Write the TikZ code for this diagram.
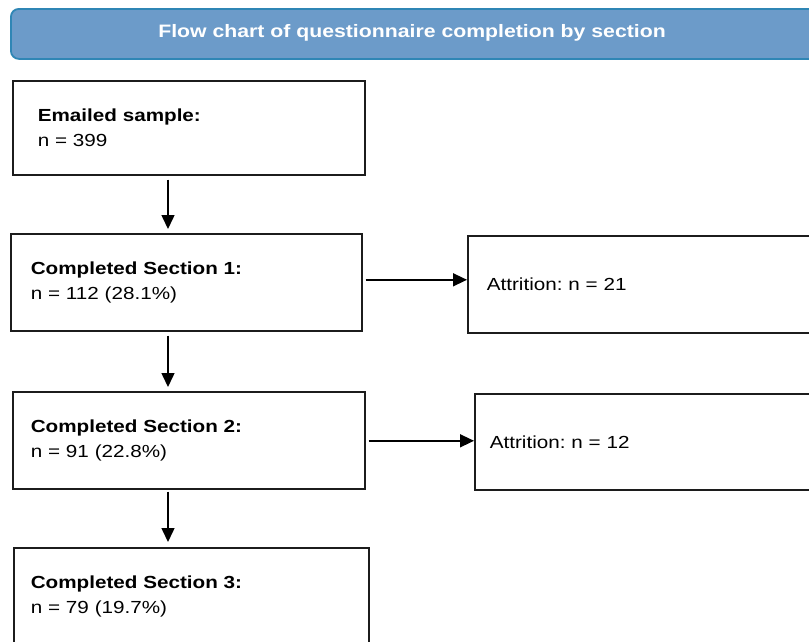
\documentclass[tikz,border=0pt]{standalone}
\usepackage{fontspec}
\setmainfont{Liberation Sans}[FakeStretch=1.18]
\usetikzlibrary{arrows.meta,positioning}
\definecolor{hdrfill}{HTML}{6C9BC9}
\definecolor{hdrline}{HTML}{2F86B5}
\definecolor{boxline}{HTML}{1C1C1C}
\frenchspacing
\tikzset{
  x=1pt, y=-1pt,
  hdr/.style={draw=hdrline, line width=1.8pt, fill=hdrfill, rounded corners=8pt,
    minimum width=830pt, minimum height=50pt, anchor=north west, inner sep=0pt,
    text=white, font=\fontsize{18}{20}\selectfont\bfseries},
  stepbox/.style={draw=boxline, line width=1.6pt, rectangle, anchor=north west,
    align=left, inner ysep=0pt, font=\fontsize{17.5}{24.5}\selectfont},
  arr/.style={draw=black, line width=1.5pt, -{Triangle[length=14pt,width=13pt]}}
}
\begin{document}
\begin{tikzpicture}
\useasboundingbox (0,0) rectangle (809,641);
\fill[white] (0,0) rectangle (809,641);
% header
\node[hdr] (title) at (10,8) {};
\node[text=white, font=\fontsize{18}{20}\selectfont\bfseries, anchor=center] (titletext) at (412,33) {Flow chart of questionnaire completion by section};
% main boxes
\node[stepbox, inner xsep=25pt, text width=302pt, minimum height=94pt] (b1) at (12,80)
  {\textbf{Emailed sample:}\\n = 399};
\node[stepbox, inner xsep=20pt, text width=311pt, minimum height=97pt] (b2) at (10,233)
  {\textbf{Completed Section 1:}\\n = 112 (28.1\%)};
\node[stepbox, inner xsep=18pt, text width=316pt, minimum height=97pt] (b3) at (12,391)
  {\textbf{Completed Section 2:}\\n = 91 (22.8\%)};
\node[stepbox, inner xsep=17pt, text width=321pt, minimum height=97pt] (b4) at (13,547)
  {\textbf{Completed Section 3:}\\n = 79 (19.7\%)};
% attrition boxes
\node[stepbox, inner xsep=19pt, text width=362pt, minimum height=97pt] (a1) at (467,235)
  {Attrition: n = 21};
\node[stepbox, inner xsep=15pt, text width=366pt, minimum height=96pt] (a2) at (474,393)
  {Attrition: n = 12};
% connectors
\coordinate (vx) at (168,0);
\draw[arr] ([yshift=-4pt]b1.south -| vx) -- ([yshift=4pt]b2.north -| vx);
\draw[arr] ([yshift=-4pt]b2.south -| vx) -- ([yshift=4pt]b3.north -| vx);
\draw[arr] ([yshift=-2pt]b3.south -| vx) -- ([yshift=5pt]b4.north -| vx);
\draw[arr] ([xshift=3pt,yshift=2.5pt]b2.east) -- ([yshift=2.5pt]b2.east -| a1.west);
\draw[arr] ([xshift=3pt,yshift=-0.5pt]b3.east) -- ([yshift=-0.5pt]b3.east -| a2.west);
\end{tikzpicture}
\end{document}
